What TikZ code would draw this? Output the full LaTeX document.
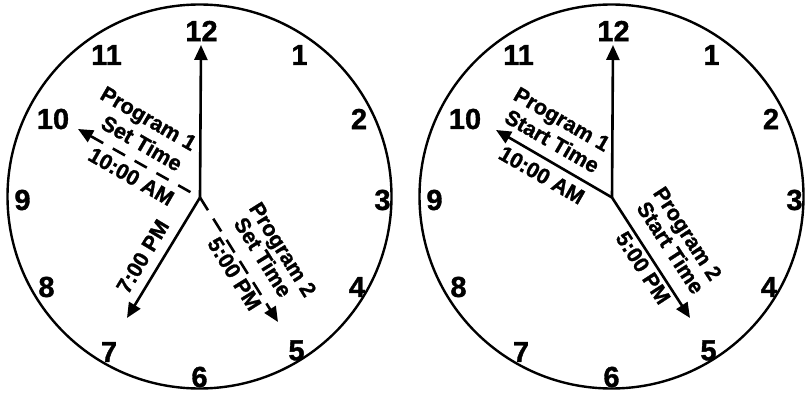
\documentclass[tikz,border=0pt]{standalone}
\usepackage{fontspec}
\setmainfont{Liberation Sans}
\newfontfamily\heavyfont{Liberation Sans Bold}[FakeBold=1.2]
\usetikzlibrary{arrows.meta,calc}
\begin{document}
\begin{tikzpicture}[x=1pt,y=1pt,
  face/.style={line width=2.4pt},
  hand/.style={line width=2.6pt,-{Triangle[length=15pt,width=13pt]}},
  dhandA/.style={hand, dash pattern=on 14pt off 11pt, dash phase=14pt},
  dhandB/.style={hand, dash pattern=on 15pt off 10pt},
  num/.style={font=\heavyfont\fontsize{29}{29}\selectfont, inner sep=0pt},
  lab/.style={font=\heavyfont\fontsize{21.5}{21.5}\selectfont, inner sep=0pt, text height=.72em, text depth=0pt}]
\useasboundingbox (0,0) rectangle (806,394);
% centers
\coordinate (Lc) at (199.5,197.5);
\coordinate (Rc) at (611.5,197.5);
\coordinate (Lh) at (200,196.5);
\coordinate (Rh) at (612,196.5);
% faces
\draw[face] (Lc) circle[radius=192];
\draw[face] (Rc) circle[radius=192];
% numbers
\foreach \n/\dx/\dy in {12/2/165.5, 1/100/141.5, 2/159.5/77.5, 3/183/-3.5, 4/157.5/-90.5, 5/97/-154, 6/0/-180.5, 7/-90.5/-155.5, 8/-153/-90.5, 9/-177/-3.5, 10/-146.5/77.5, 11/-93/141.5}{
  \node[num] (L\n) at ($(Lc)+(\dx,\dy)$) {\n};
  \node[num] (R\n) at ($(Rc)+(\dx,\dy)$) {\n};
}
% left hands
\coordinate (Lt12) at (201,349);
\coordinate (Lt10) at (78,265);
\coordinate (Lt7) at (127,76);
\coordinate (Lt5) at (278,72);
\draw[hand] (Lh) -- (Lt12);
\draw[dhandA] (Lh) -- (Lt10);
\draw[hand] (Lh) -- (Lt7);
\draw[dhandB] (Lh) -- (Lt5);
% right hands
\coordinate (Rt12) at (613,349);
\coordinate (Rt10) at (496,264);
\coordinate (Rt5) at (690,76);
\draw[hand] (Rh) -- (Rt12);
\draw[hand] (Rh) -- (Rt10);
\draw[hand] (Rh) -- (Rt5);
% left labels
\node[lab, rotate=-30] (Lp1) at ($(Lh)+(150:84)+(60:39)$) {Program 1};
\node[lab, rotate=-30] (Ls1) at ($(Lh)+(150:77.5)+(60:14)$) {Set Time};
\node[lab, rotate=-30] (Lm1) at ($(Lh)+(150:70)+(60:-20)$) {10:00 AM};
\node[lab, rotate=59] (Lm7) at ($(Lh)+(239:80)+(149:15)$) {7:00 PM};
\node[lab, rotate=-58] (Lp2) at ($(Lh)+(-58:88)+(32:39)$) {Program 2};
\node[lab, rotate=-58] (Ls2) at ($(Lh)+(-58:84)+(32:18)$) {Set Time};
\node[lab, rotate=-58] (Lm2) at ($(Lh)+(-58:83)+(32:-15)$) {5:00 PM};
% right labels
\node[lab, rotate=-30] (Rp1) at ($(Rh)+(150:82.5)+(60:39)$) {Program 1};
\node[lab, rotate=-30] (Rs1) at ($(Rh)+(150:80)+(60:15)$) {Start Time};
\node[lab, rotate=-30] (Rm1) at ($(Rh)+(150:72)+(60:-19.5)$) {10:00 AM};
\node[lab, rotate=-57] (Rp2) at ($(Rh)+(-57:71.5)+(33:40)$) {Program 2};
\node[lab, rotate=-57] (Rs2) at ($(Rh)+(-57:74)+(33:18)$) {Start Time};
\node[lab, rotate=-57] (Rm2) at ($(Rh)+(-57:76)+(33:-16)$) {5:00 PM};
\end{tikzpicture}
\end{document}
